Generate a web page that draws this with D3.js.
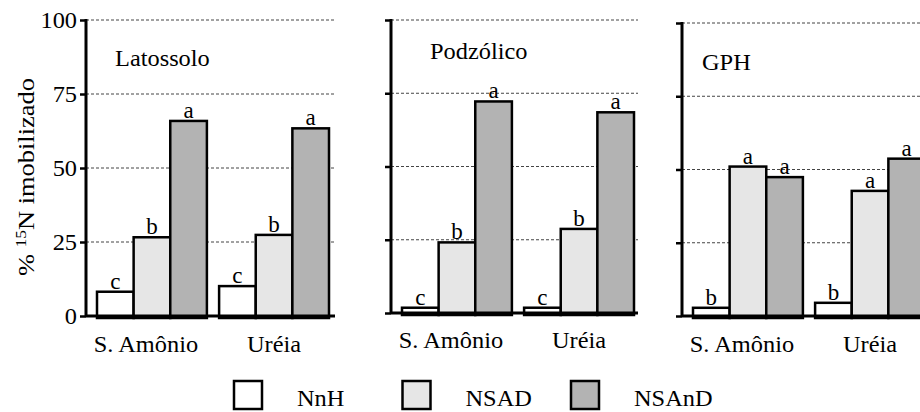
<!DOCTYPE html>
<html><head><meta charset="utf-8">
<script src="https://cdn.jsdelivr.net/npm/d3@7"></script>
<style>
body{margin:0;background:#fff;}
svg{display:block;}
</style></head>
<body><svg id="c" width="920" height="412"></svg>
<script>
const panels = ["Latossolo", "Podzólico", "GPH"];
const categories = ["S. Amônio", "Uréia"];
const series = ["NnH", "NSAD", "NSAnD"];
const colors = ["#ffffff", "#e6e6e6", "#b3b3b3"];
const yTicks = [0, 25, 50, 75, 100];
// values[panel][category][series]
const latossolo = [[8.2, 26.6, 65.9], [10.1, 27.4, 63.4]];
const podzolico = [[1.8, 24.1, 72.2], [1.8, 28.7, 68.5]];
const gph = [[2.8, 51.0, 47.4], [4.5, 42.7, 53.7]];
const latLetters = [["c", "b", "a"], ["c", "b", "a"]];
const podLetters = [["c", "b", "a"], ["c", "b", "a"]];
const gphLetters = [["b", "a", "a"], ["b", "a", "a"]];
const values = [latossolo, podzolico, gph];
const letters = [latLetters, podLetters, gphLetters];

const FONT = "Liberation Serif, DejaVu Serif, serif";
const FS = 23;
const SX = 1.06;
const svg = d3.select("#c");
const layout = [
  {ax: 86, right: 335, y0: 316, y1: 20, labY: 352, title: [115, 66]},
  {ax: 391, right: 638, y0: 313, y1: 20, labY: 348, title: [430, 59]},
  {ax: 682, right: 935, y0: 316, y1: 23, labY: 352, title: [702, 70]}
];
const labShift = [-6, 0];
function stext(sel, x, y, anchor) {
  return sel.append("text").attr("transform", `translate(${x},${y}) scale(${SX},1)`)
    .attr("text-anchor", anchor || "start").attr("font-size", FS).style("font-family", FONT);
}

panels.forEach((p, pi) => {
  const L = layout[pi];
  const g = svg.append("g");
  const y = d3.scaleLinear().domain([0, 100]).range([L.y0, L.y1]);
  const x0 = d3.scaleBand().domain(categories).range([L.ax + 11, L.ax + 11 + 232]).paddingInner(0.1);
  const x1 = d3.scaleBand().domain(series).range([0, x0.bandwidth()]);

  g.selectAll(".grid").data(yTicks.filter(t => t > 0)).join("line")
    .attr("x1", L.ax).attr("x2", L.right)
    .attr("y1", d => y(d)).attr("y2", d => y(d))
    .attr("stroke", "#444").attr("stroke-width", 1).attr("stroke-dasharray", "3,2");

  const axis = d3.axisLeft(y).tickValues(yTicks).tickSize(6).tickPadding(3)
    .tickFormat(pi === 0 ? d3.format("d") : () => "");
  const ag = g.append("g").attr("transform", `translate(${L.ax},0)`).call(axis);
  ag.select(".domain").remove();
  ag.selectAll(".tick line").attr("stroke", "#000").attr("stroke-width", 2.5);
  ag.selectAll(".tick text").attr("fill", "#000").attr("dy", "0.33em")
    .style("font-family", FONT).style("font-size", FS + "px")
    .attr("transform", `scale(${SX},1)`).attr("x", -9 / SX);
  g.append("line").attr("x1", L.ax).attr("x2", L.ax).attr("y1", y(100) - 1).attr("y2", y(0))
    .attr("stroke", "#000").attr("stroke-width", 3);

  const grp = g.selectAll(".grp").data(categories).join("g")
    .attr("transform", c => `translate(${x0(c)},0)`);
  const rows = (c, ci) => series.map((s, si) => ({s, si, v: values[pi][ci][si], l: letters[pi][ci][si]}));
  grp.selectAll("rect").data(rows).join("rect")
    .attr("x", d => x1(d.s)).attr("width", x1.bandwidth())
    .attr("y", d => y(d.v)).attr("height", d => y(0) - y(d.v) + 2)
    .attr("fill", d => colors[d.si]).attr("stroke", "#000").attr("stroke-width", 2.5);
  grp.selectAll("text").data(rows).join("text")
    .attr("x", d => x1(d.s) + x1.bandwidth() / 2).attr("y", d => y(d.v) - 3)
    .attr("text-anchor", "middle").style("font-family", FONT).style("font-size", FS + "px").text(d => d.l);

  g.append("line").attr("x1", L.ax).attr("x2", L.right).attr("y1", y(0)).attr("y2", y(0))
    .attr("stroke", "#000").attr("stroke-width", 3);

  categories.forEach((c, ci) => {
    stext(g, x0(c) + x0.bandwidth() / 2 + labShift[ci], L.labY, "middle").text(c);
  });
  stext(g, L.title[0], L.title[1]).text(p);
});

const yt = svg.append("text").attr("transform", "translate(34,177) rotate(-90) scale(1.15,1)")
  .attr("text-anchor", "middle").style("font-family", FONT).style("font-size", FS + "px");
yt.append("tspan").text("% ");
yt.append("tspan").style("font-size", "15px").attr("dy", -8).text("15");
yt.append("tspan").attr("dy", 8).text("N imobilizado");

const lg = svg.append("g").selectAll("g").data(series).join("g")
  .attr("transform", (d, i) => `translate(${234 + i * 168.5},381)`);
lg.append("rect").attr("width", 28).attr("height", 28)
  .attr("fill", (d, i) => colors[i]).attr("stroke", "#000").attr("stroke-width", 2.5);
lg.append("text").attr("transform", `translate(63,25) scale(${SX},1)`)
  .style("font-family", FONT).style("font-size", FS + "px").text(d => d);
</script></body></html>
